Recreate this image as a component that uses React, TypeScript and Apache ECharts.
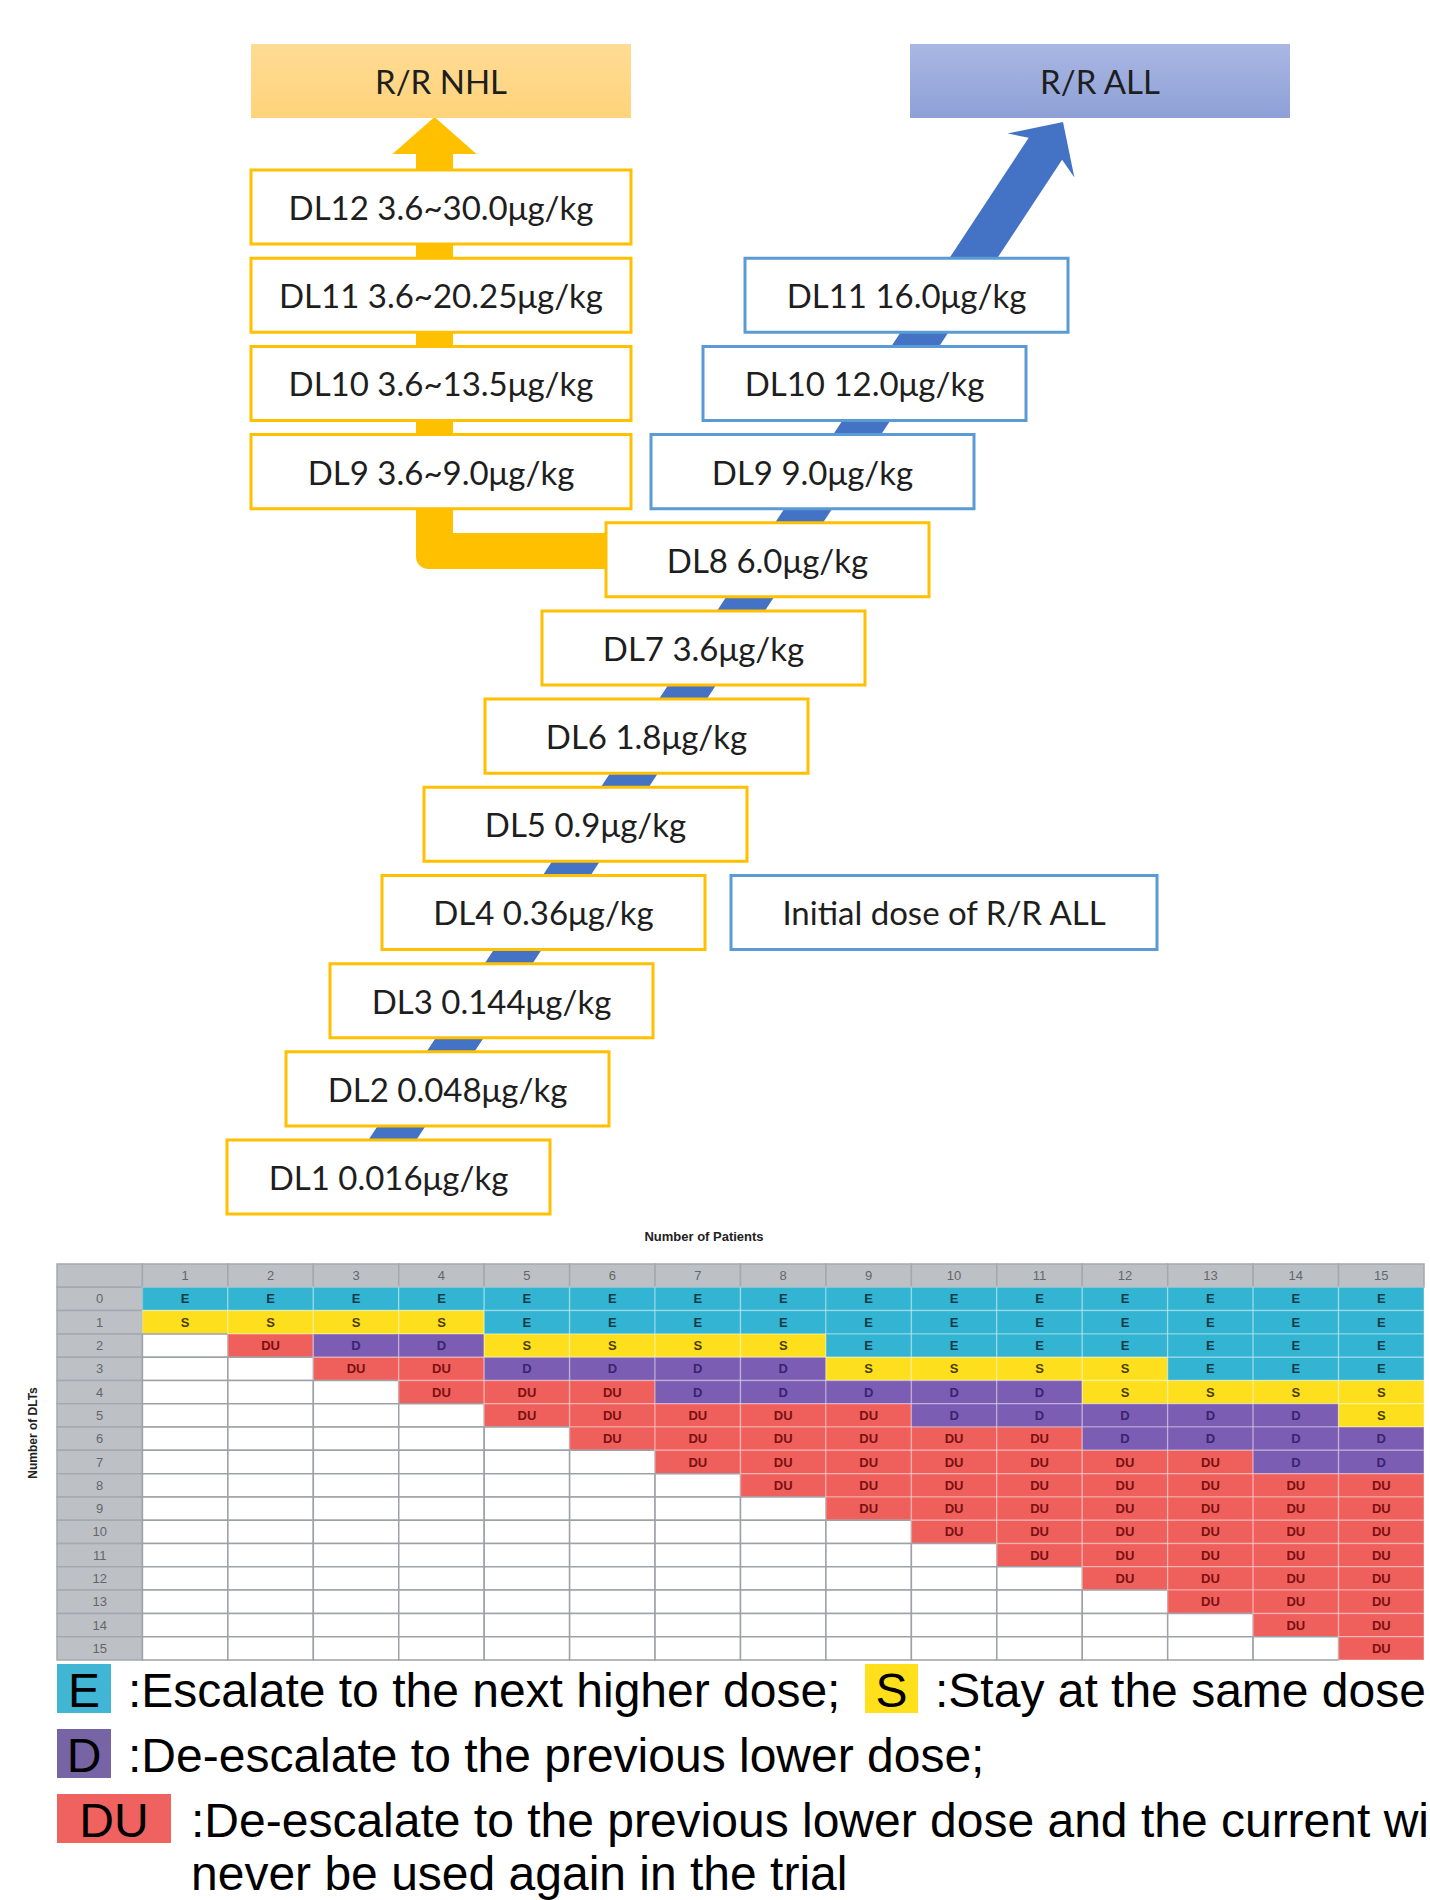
import React, { useEffect, useRef } from "react";
import * as echarts from "echarts";

// ---------------- DATA ----------------
const patientCounts = ["1", "2", "3", "4", "5", "6", "7", "8", "9", "10", "11", "12", "13", "14", "15"];
const dltCounts = ["0", "1", "2", "3", "4", "5", "6", "7", "8", "9", "10", "11", "12", "13", "14", "15"];

// decision for each number of patients (column), listed by number of DLTs 0..n
const decisionsByPatients: string[][] = [
  ["E", "S"],
  ["E", "S", "DU"],
  ["E", "S", "D", "DU"],
  ["E", "S", "D", "DU", "DU"],
  ["E", "E", "S", "D", "DU", "DU"],
  ["E", "E", "S", "D", "DU", "DU", "DU"],
  ["E", "E", "S", "D", "D", "DU", "DU", "DU"],
  ["E", "E", "S", "D", "D", "DU", "DU", "DU", "DU"],
  ["E", "E", "E", "S", "D", "DU", "DU", "DU", "DU", "DU"],
  ["E", "E", "E", "S", "D", "D", "DU", "DU", "DU", "DU", "DU"],
  ["E", "E", "E", "S", "D", "D", "DU", "DU", "DU", "DU", "DU", "DU"],
  ["E", "E", "E", "S", "S", "D", "D", "DU", "DU", "DU", "DU", "DU", "DU"],
  ["E", "E", "E", "E", "S", "D", "D", "DU", "DU", "DU", "DU", "DU", "DU", "DU"],
  ["E", "E", "E", "E", "S", "D", "D", "D", "DU", "DU", "DU", "DU", "DU", "DU", "DU"],
  ["E", "E", "E", "E", "S", "S", "D", "D", "DU", "DU", "DU", "DU", "DU", "DU", "DU", "DU"],
];

const nhlLabels = ["DL12 3.6~30.0μg/kg", "DL11 3.6~20.25μg/kg", "DL10 3.6~13.5μg/kg", "DL9 3.6~9.0μg/kg"];
const nhlLevels = [12, 11, 10, 9];
const allLabels = ["DL11 16.0μg/kg", "DL10 12.0μg/kg", "DL9 9.0μg/kg"];
const allLevels = [11, 10, 9];
const sharedLabels = [
  "DL8 6.0μg/kg", "DL7 3.6μg/kg", "DL6 1.8μg/kg", "DL5 0.9μg/kg",
  "DL4 0.36μg/kg", "DL3 0.144μg/kg", "DL2 0.048μg/kg", "DL1 0.016μg/kg",
];
const sharedLevels = [8, 7, 6, 5, 4, 3, 2, 1];
const headerLabels = ["R/R NHL", "R/R ALL"];
const initialLabel = "Initial dose of R/R ALL";
const initialLevel = 4;

// ---------------- LAYOUT (diagram x in px, y in dose-level units) ----------------
const headerLevel = 13.43;
const nhlLeft = 251, nhlRight = 631;
const allLeft = [745, 703, 651];
const sharedLeft = [606, 542, 485, 424, 382, 330, 286, 227];
const stairWidth = 323;
const headerLeft = [251, 910];
const headerWidth = 380;
const initialLeftRight = [731, 1157];

const COLORS: Record<string, string> = { E: "#33B4D2", S: "#FDDF1E", D: "#7B5DB3", DU: "#EF605D" };
const TEXTCOL: Record<string, string> = { E: "#143c48", S: "#4a3c00", D: "#3a2470", DU: "#7a1010" };

type Box = { label: string; level: number; left: number; right: number; kind: string };
const boxes: Box[] = [];
headerLabels.forEach((l, i) =>
  boxes.push({ label: l, level: headerLevel, left: headerLeft[i], right: headerLeft[i] + headerWidth, kind: i === 0 ? "hN" : "hA" })
);
nhlLabels.forEach((l, i) => boxes.push({ label: l, level: nhlLevels[i], left: nhlLeft, right: nhlRight, kind: "y" }));
allLabels.forEach((l, i) => boxes.push({ label: l, level: allLevels[i], left: allLeft[i], right: allLeft[i] + stairWidth, kind: "b" }));
sharedLabels.forEach((l, i) => boxes.push({ label: l, level: sharedLevels[i], left: sharedLeft[i], right: sharedLeft[i] + stairWidth, kind: "y" }));
boxes.push({ label: initialLabel, level: initialLevel, left: initialLeftRight[0], right: initialLeftRight[1], kind: "b" });

// arrows: [startX, startLevel, endX, endLevel]
const arrowData = [
  [640, 8.1, 434.5, 13.02],
  [366, 0.966, 1063, 12.964],
];

// table cells
type Cell = { c: number; r: number; code: string; text: string };
const cells: Cell[] = [];
cells.push({ c: 0, r: 0, code: "H", text: "" });
patientCounts.forEach((p, i) => cells.push({ c: i + 1, r: 0, code: "H", text: p }));
dltCounts.forEach((d, j) => cells.push({ c: 0, r: j + 1, code: "H", text: d }));
patientCounts.forEach((_, i) => {
  dltCounts.forEach((_, j) => {
    const v = decisionsByPatients[i][j] || "";
    cells.push({ c: i + 1, r: j + 1, code: v, text: v });
  });
});

const LEG_FONT = { fontSize: 48, fontFamily: "'Liberation Sans', Arial, sans-serif", fill: "#000" };

export default function App() {
  const ref = useRef<HTMLDivElement>(null);
  useEffect(() => {
    if (!ref.current) return;
    const chart = echarts.init(ref.current, undefined, { renderer: "svg" });

    const renderArrow = (params: any, api: any) => {
      const a = api.coord([api.value(0), api.value(1)]);
      const b = api.coord([api.value(2), api.value(3)]);
      if (params.dataIndex === 0) {
        const hw = 18.5, hh = 18, r = 12, headLen = 37, headHalf = 42;
        const cx = b[0], cy = a[1], tipY = b[1], baseY = tipY + headLen;
        const pts: number[][] = [
          [a[0], cy - hh], [cx + hw, cy - hh], [cx + hw, baseY], [cx + headHalf, baseY], [cx, tipY],
          [cx - headHalf, baseY], [cx - hw, baseY], [cx - hw, cy + hh - r],
        ];
        for (let k = 1; k < 6; k++) {
          const t = (Math.PI / 2) * (k / 6);
          pts.push([cx - hw + r - r * Math.cos(t), cy + hh - r + r * Math.sin(t)]);
        }
        pts.push([cx - hw + r, cy + hh], [a[0], cy + hh]);
        return { type: "polygon", shape: { points: pts }, style: { fill: "#FFC000" } };
      }
      const dx = b[0] - a[0], dy = b[1] - a[1];
      const L = Math.hypot(dx, dy);
      const ux = dx / L, uy = dy / L, nx = -uy, ny = ux;
      const w = 20, back = 40, notch = 32, hhw = 40;
      const P = (along: number, side: number) => [b[0] - ux * along + nx * side, b[1] - uy * along + ny * side];
      const pts = [
        [a[0] + nx * w, a[1] + ny * w], P(notch, w), P(back, hhw), [b[0], b[1]],
        P(back, -hhw), P(notch, -w), [a[0] - nx * w, a[1] - ny * w],
      ];
      return { type: "polygon", shape: { points: pts }, style: { fill: "#4472C4" } };
    };

    const renderBox = (params: any, api: any) => {
      const bx = boxes[params.dataIndex];
      const p1 = api.coord([api.value(0), api.value(1)]);
      const p2 = api.coord([api.value(2), api.value(1)]);
      const h = api.size([0, 0.84])[1];
      let fill: any = "#fff";
      let stroke = "#FFC000";
      let lw = 3;
      if (bx.kind === "b") stroke = "#5B9BD5";
      if (bx.kind === "hN") {
        fill = new echarts.graphic.LinearGradient(0, 0, 0, 1, [
          { offset: 0, color: "#FFDB94" },
          { offset: 1, color: "#FFD37A" },
        ]);
        stroke = "none";
        lw = 0;
      }
      if (bx.kind === "hA") {
        fill = new echarts.graphic.LinearGradient(0, 0, 0, 1, [
          { offset: 0, color: "#A9B7E2" },
          { offset: 1, color: "#8EA0D7" },
        ]);
        stroke = "none";
        lw = 0;
      }
      return {
        type: "group",
        children: [
          {
            type: "rect",
            shape: { x: p1[0], y: p1[1] - h / 2, width: p2[0] - p1[0], height: h },
            style: { fill, stroke, lineWidth: lw },
          },
          {
            type: "text",
            style: {
              text: bx.label,
              x: (p1[0] + p2[0]) / 2,
              y: p1[1],
              align: "center",
              verticalAlign: "middle",
              textAlign: "center",
              textVerticalAlign: "middle",
              fontSize: 33,
              fontFamily: "Lato, 'Open Sans', sans-serif",
              fill: "#1e1e1e",
            },
          },
        ],
      };
    };

    const renderCell = (params: any, api: any) => {
      const cell = cells[params.dataIndex];
      const p = api.coord([api.value(0), api.value(1)]);
      const s = api.size([1, 1]);
      let fill = "#ffffff";
      let stroke = "#9DA2A8";
      let tcol = "#666";
      let weight: any = "normal";
      if (cell.code === "H") {
        fill = "#BDC1C6";
        stroke = "#A4A9AF";
      } else if (cell.code) {
        fill = COLORS[cell.code];
        stroke = "rgba(255,255,255,0.28)";
        tcol = TEXTCOL[cell.code];
        weight = "bold";
      }
      return {
        type: "group",
        children: [
          {
            type: "rect",
            shape: { x: p[0] - s[0] / 2, y: p[1] - s[1] / 2, width: s[0], height: s[1] },
            style: { fill, stroke, lineWidth: 1.5 },
          },
          {
            type: "text",
            style: {
              text: cell.text,
              x: p[0],
              y: p[1],
              align: "center",
              verticalAlign: "middle",
              textAlign: "center",
              textVerticalAlign: "middle",
              fontSize: 13,
              fontWeight: weight,
              fontFamily: "'Liberation Sans', Arial, sans-serif",
              fill: tcol,
            },
          },
        ],
      };
    };

    const legText = (text: string, x: number, y: number, align = "left") => ({
      type: "text",
      x,
      y,
      style: { text, ...LEG_FONT, align, verticalAlign: "middle", textAlign: align, textVerticalAlign: "middle" },
    });

    chart.setOption({
      animation: false,
      backgroundColor: "#ffffff",
      grid: [
        { left: 0, top: 30.7, width: 1430, height: 1234.5 },
        { left: 57, top: 1264, width: 1367, height: 396 },
      ],
      xAxis: [
        { gridIndex: 0, type: "value", min: 0, max: 1430, show: false },
        { gridIndex: 1, type: "category", data: ["", ...patientCounts], show: false },
      ],
      yAxis: [
        { gridIndex: 0, type: "value", min: 0, max: 14, show: false },
        { gridIndex: 1, type: "category", data: ["", ...dltCounts], inverse: true, show: false },
      ],
      series: [
        {
          type: "custom",
          xAxisIndex: 0,
          yAxisIndex: 0,
          z: 1,
          renderItem: renderArrow,
          data: arrowData,
          silent: true,
        },
        {
          type: "custom",
          xAxisIndex: 0,
          yAxisIndex: 0,
          z: 2,
          renderItem: renderBox,
          encode: { x: [0, 2], y: 1 },
          data: boxes.map((b) => [b.left, b.level, b.right]),
          silent: true,
        },
        {
          type: "custom",
          xAxisIndex: 1,
          yAxisIndex: 1,
          z: 2,
          renderItem: renderCell,
          encode: { x: 0, y: 1 },
          data: cells.map((c) => [c.c, c.r]),
          silent: true,
        },
      ],
      graphic: [
        {
          type: "text",
          x: 704,
          y: 1236,
          style: {
            text: "Number of Patients",
            fontSize: 13,
            fontWeight: "bold",
            fontFamily: "'Liberation Sans', Arial, sans-serif",
            fill: "#222",
            align: "center",
            verticalAlign: "middle",
            textAlign: "center",
            textVerticalAlign: "middle",
          },
        },
        {
          type: "text",
          x: 33,
          y: 1433,
          rotation: Math.PI / 2,
          style: {
            text: "Number of DLTs",
            fontSize: 12,
            fontWeight: "bold",
            fontFamily: "'Liberation Sans', Arial, sans-serif",
            fill: "#222",
            align: "center",
            verticalAlign: "middle",
            textAlign: "center",
            textVerticalAlign: "middle",
          },
        },
        { type: "rect", shape: { x: 57, y: 1664, width: 54, height: 49 }, style: { fill: "#41B5D4" } },
        legText("E", 84, 1690, "center"),
        legText(":Escalate to the next higher dose;", 128, 1690),
        { type: "rect", shape: { x: 865, y: 1664, width: 53, height: 49 }, style: { fill: "#FFE01B" } },
        legText("S", 891.5, 1690, "center"),
        legText(":Stay at the same dose;", 935, 1690),
        { type: "rect", shape: { x: 57, y: 1729, width: 54, height: 49 }, style: { fill: "#7664A5" } },
        legText("D", 84, 1755, "center"),
        legText(":De-escalate to the previous lower dose;", 128, 1755),
        { type: "rect", shape: { x: 57, y: 1794, width: 114, height: 49 }, style: { fill: "#EF6260" } },
        legText("DU", 114, 1820, "center"),
        legText(":De-escalate to the previous lower dose and the current will", 191, 1820),
        legText("never be used again in the trial", 191, 1873),
      ],
    });
    return () => chart.dispose();
  }, []);
  return (
    <div
      ref={ref}
      style={{ position: "absolute", left: 0, top: 0, width: 1430, height: 1900, background: "#fff" }}
    />
  );
}
